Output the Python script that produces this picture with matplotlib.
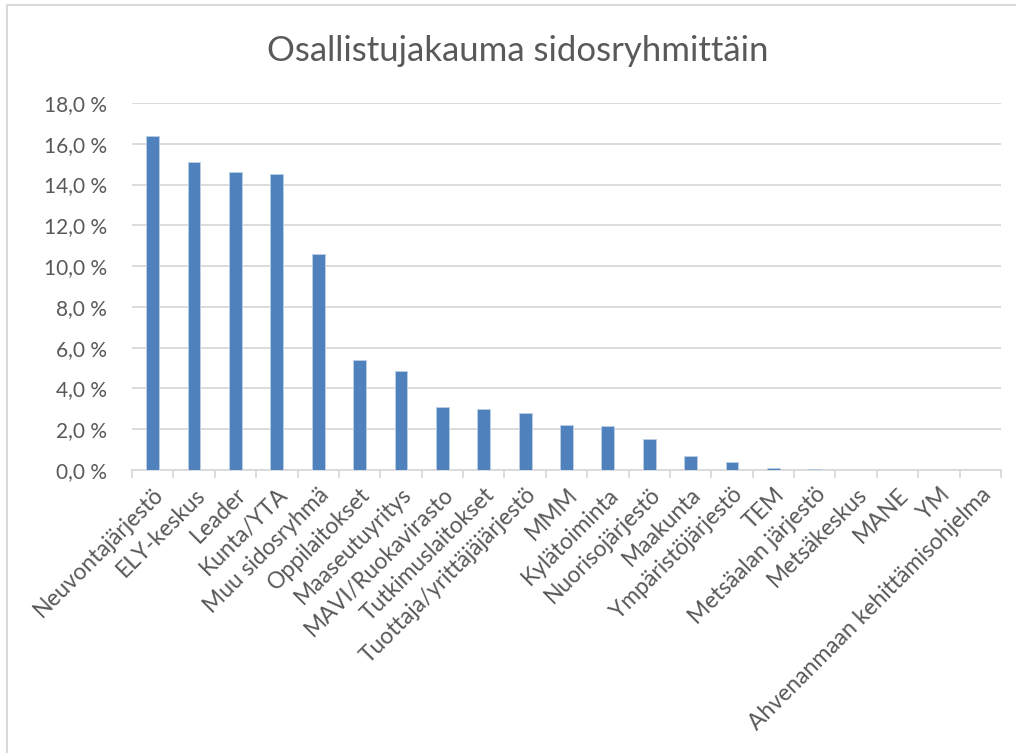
import numpy as np
import matplotlib
matplotlib.use("Agg")
import matplotlib.pyplot as plt
from matplotlib.ticker import FuncFormatter
from matplotlib.patches import Rectangle

categories = [
    "Neuvontajärjestö", "ELY-keskus", "Leader", "Kunta/YTA", "Muu sidosryhmä",
    "Oppilaitokset", "Maaseutuyritys", "MAVI/Ruokavirasto", "Tutkimuslaitokset",
    "Tuottaja/yrittäjäjärjestö", "MMM", "Kylätoiminta", "Nuorisojärjestö",
    "Maakunta", "Ympäristöjärjestö", "TEM", "Metsäalan järjestö", "Metsäkeskus",
    "MANE", "YM", "Ahvenanmaan kehittämisohjelma",
]
shares = [16.4, 15.1, 14.6, 14.5, 10.6, 5.4, 4.85, 3.1, 2.97, 2.78, 2.2, 2.15,
          1.51, 0.67, 0.38, 0.1, 0.05, 0.0, 0.0, 0.0, 0.0]

title = "Osallistujakauma sidosryhmittäin"
yticks = np.arange(0, 19, 2)

plt.rcParams['font.family'] = ['Lato', 'DejaVu Sans']
text_col = "#595959"
grid_col = "#D9D9D9"

fig = plt.figure(figsize=(10.16, 7.53), dpi=100)
ax = fig.add_axes([132 / 1016, 1 - 470 / 753, (1001 - 132) / 1016, (470 - 103) / 753])

x = np.arange(len(categories))
ax.bar(x, shares, width=0.31, color="#4F81BD", edgecolor="#B9CDE5", linewidth=0.7, zorder=3)

ax.set_xlim(-0.5, len(categories) - 0.5)
ax.set_ylim(0, 18)
ax.set_yticks(yticks)
ax.yaxis.set_major_formatter(FuncFormatter(lambda v, p: f"{v:.1f} %".replace(".", ",")))
ax.grid(axis="y", color=grid_col, linewidth=1.3, zorder=0)

ax.set_xticks(x)
ax.set_xticklabels(categories, rotation=45, ha="right", rotation_mode="anchor")
ax.set_xticks(np.arange(len(categories) + 1) - 0.5, minor=True)
ax.tick_params(axis="x", which="major", length=0, pad=10, labelsize=16.5, labelcolor=text_col)
ax.tick_params(axis="x", which="minor", length=6, width=1.3, color=grid_col)
ax.tick_params(axis="y", length=0, pad=18, labelsize=15, labelcolor=text_col)

for s in ["top", "right", "left"]:
    ax.spines[s].set_visible(False)
ax.spines["bottom"].set_color(grid_col)
ax.spines["bottom"].set_linewidth(1.3)

fig.text(518 / 1016, 1 - 51 / 753, title, ha="center", va="center", fontsize=25, color=text_col)

# chart frame (cropped at right and bottom)
fig.patches.append(Rectangle((7 / 1016, -0.1), 1.2, 1.1 - 5 / 753,
                             transform=fig.transFigure, fill=False,
                             edgecolor=grid_col, linewidth=1.5))

fig.savefig("out.png", dpi=100)
